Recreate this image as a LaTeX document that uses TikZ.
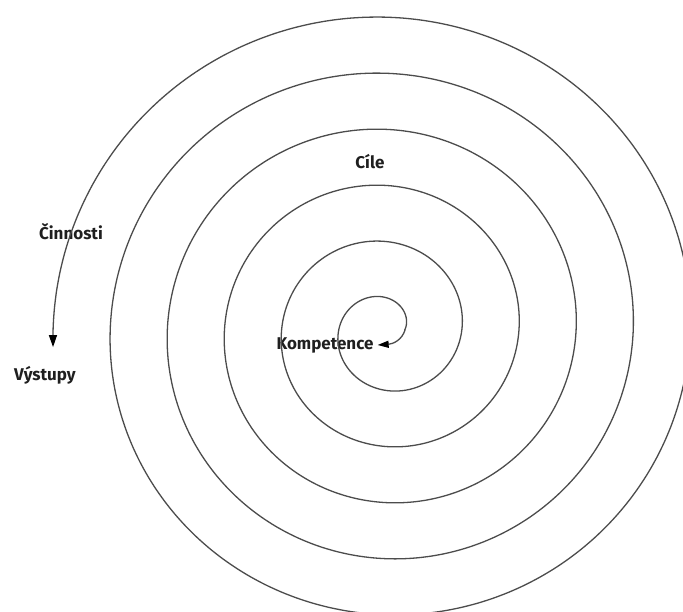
\documentclass[tikz,border=0pt]{standalone}
\usepackage{fontspec}
\setmainfont{Fira Sans}
\usetikzlibrary{arrows.meta}
\begin{document}
\begin{tikzpicture}[x=1pt,y=-1pt,
  spiral/.style={draw=black!70, line width=1.3pt, line join=round},
  lbl/.style={font=\fontsize{17}{17}\selectfont\bfseries, inner sep=0pt, text=black!88}]
\useasboundingbox (0,0) rectangle (683,612);
\node[lbl] (cile) at (370,162) {Cíle};
\node[lbl] (cin) at (71,232) {Činnosti};
\node[lbl] (vys) at (45,375) {Výstupy};
\node[lbl] (komp) at (325,345) {Kompetence};
\coordinate (in) at ([xshift=4pt]komp.east);
\begin{scope}
\clip (0,0) rectangle (683,612);
\draw[spiral, {Triangle[length=11pt,width=7pt,color=black]}-{Triangle[length=12pt,width=8pt,color=black]}]
  (in) .. controls (393,344) and (402,340) .. (405,330)
  -- plot[domain=0:1983, samples=600, smooth, variable=\t]
     ({386+0.985*(19+0.16111*\t)*cos(\t)}, {330-0.967*(19+0.16111*\t)*sin(\t)});
\end{scope}
\end{tikzpicture}
\end{document}
